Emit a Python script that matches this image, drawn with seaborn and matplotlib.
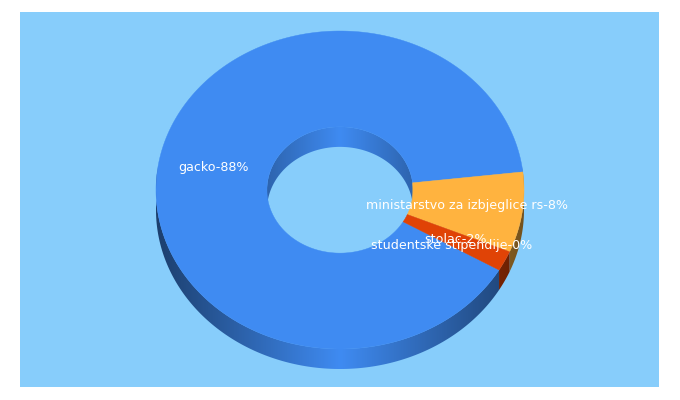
import numpy as np
import matplotlib
matplotlib.use("Agg")
import matplotlib.pyplot as plt
from matplotlib.colors import to_rgb
from matplotlib.patches import Polygon, Rectangle
import seaborn as sns

categories = ["gacko", "ministarstvo za izbjeglice rs", "stolac", "studentske stipendije"]
values = [88, 8, 2, 0]
colors = ["#3f8bf2", "#ffb33f", "#e04306", "#8f5fd0"]

BACKGROUND = "#87cdfb"
CX, CY, RX, RY = 340.0, 190.0, 184.0, 159.0
HOLE = 0.397
DEPTH = 20.0
START = -30.2

sns.set_theme(style="white")
plt.rcParams["font.family"] = ["DejaVu Sans"]

fig = plt.figure(figsize=(6.8, 4.0), dpi=100, facecolor="white")
ax = fig.add_axes([0, 0, 1, 1])
ax.axis("off")
ax.add_patch(Rectangle((20, 12), 639, 375, facecolor=BACKGROUND, edgecolor="none", zorder=0))

# slice angles (clockwise, in the ellipse's parameter space)
fractions = np.array(values, dtype=float) / sum(values)
spans = fractions * 360.0
ends = START - np.cumsum(np.r_[0.0, spans[:-1]])
slices = [(s - w, s) for s, w in zip(ends, spans)]


def point(deg, k=1.0):
    t = np.radians(deg)
    return CX + k * RX * np.cos(t), CY - k * RY * np.sin(t)


def wall(lo, hi, k, base, side_dark, zorder):
    """Extruded strip along an arc with a smooth horizontal shading."""
    deg = np.linspace(lo, hi, max(int((hi - lo) * 2), 2) + 1)
    x, y = point(deg, k)
    verts = np.r_[np.c_[x, y], np.c_[x[::-1], y[::-1] + DEPTH]]
    clip = Polygon(verts, closed=True, transform=ax.transData, facecolor="none", edgecolor="none")
    ax.add_patch(clip)
    x0, x1 = x.min() - 1, x.max() + 1
    y0, y1 = y.min() - 1, y.max() + DEPTH + 1
    xs = np.linspace(x0, x1, max(int(x1 - x0) * 2, 2))
    f = 1 - side_dark * np.minimum(np.abs(xs - CX) / (k * RX), 1.0)
    img = (np.outer(f, to_rgb(base)))[None, :, :]
    ax.imshow(img, extent=(x0, x1, y1, y0), origin="upper", aspect="auto",
              interpolation="bilinear", clip_path=clip, zorder=zorder)


# inner wall: back half of the hole
for (lo, hi), c in zip(slices, colors):
    for shift in (-360, 0, 360):
        a, b = max(lo + shift, 0), min(hi + shift, 180)
        if b > a:
            wall(a, b, HOLE, c, 0.28, 1)

# outer wall: front half of the disc
for (lo, hi), c in zip(slices, colors):
    for shift in (-360, 0, 360):
        a, b = max(lo + shift, -180 - 8), min(hi + shift, 8)
        if b > a:
            wall(a, b, 1.0, c, 0.55, 2)

# top faces
for (lo, hi), c, v in zip(slices, colors, values):
    if v == 0:
        continue
    deg = np.linspace(lo, hi, max(int((hi - lo) * 2), 2) + 1)
    ox, oy = point(deg)
    ix, iy = point(deg[::-1], HOLE)
    ax.fill(np.r_[ox, ix], np.r_[oy, iy], facecolor=c, edgecolor=c, linewidth=0.3, zorder=3)

# labels at the middle of each slice
for name, v, (lo, hi) in zip(categories, values, slices):
    x, y = point((lo + hi) / 2, 0.70)
    ax.text(x, y, f"{name}-{v}%", color="white", fontsize=9.05,
            ha="center", va="center", zorder=5)

ax.set_xlim(0, 680)
ax.set_ylim(400, 0)
fig.savefig("out.png", dpi=100, facecolor="white")
